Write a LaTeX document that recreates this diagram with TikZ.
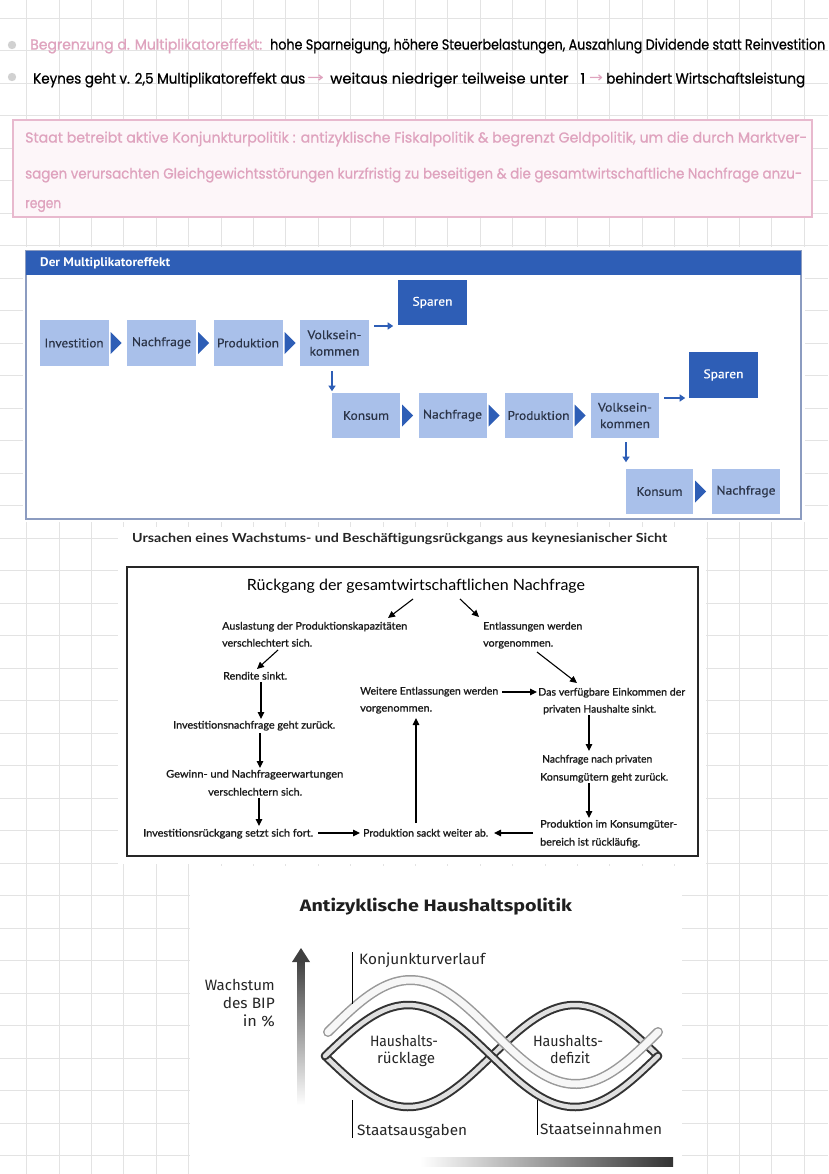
\documentclass[tikz,border=0pt]{standalone}
\usepackage{graphicx}
\usepackage{fontspec}
\setmainfont{Lato}
\newfontfamily\hand{Poppins}[FakeBold=0.8]
\newfontfamily\din{PT Sans}[FakeBold=0.4]
\newfontfamily\dinb{PT Sans}
\newfontfamily\latom{Lato}[FakeBold=1]
\newfontfamily\lato{Lato}
\newfontfamily\fira{Fira Sans}
\newfontfamily\sym{DejaVu Sans}
\usetikzlibrary{arrows.meta,calc}
\definecolor{pinkc}{HTML}{DFA3BE}
\definecolor{pinkb}{HTML}{E8B9CE}
\definecolor{pinkf}{HTML}{FDF6F9}
\definecolor{gridc}{HTML}{E3E3E3}
\definecolor{lblue}{HTML}{A9C0EA}
\definecolor{dblue}{HTML}{2E5EB6}
\definecolor{boxtext}{HTML}{2B3448}
\definecolor{outerc}{HTML}{8C9CC0}
\newcommand{\fitw}[2]{\resizebox{#1}{\height}{#2}}
\newcommand{\mtri}[1]{\fill[dblue] ($(#1.east)+(2,-11)$) -- ++(11,11) -- ++(-11,11) -- cycle;}
\newcommand{\cl}[5]{\node[ctxt,anchor=base west] (#1) at (#2,{#3+3.6}) {\fitw{#4pt}{#5}};}
\begin{document}
\begin{tikzpicture}[x=1pt,y=-1pt,
  handtxt/.style={anchor=west,inner sep=0,font=\hand\fontsize{14.5}{16}\selectfont},
  mbox/.style={fill=lblue,minimum width=69pt,minimum height=46pt,inner sep=0,align=center,text=boxtext,font=\din\fontsize{12.5}{16.5}\selectfont},
  sbox/.style={mbox,fill=dblue,text=white},
  marrow/.style={-{Triangle[length=5.5pt,width=7pt]},draw=dblue,line width=1.8pt},
  ctxt/.style={inner sep=0,font=\latom\fontsize{10.5}{12}\selectfont,text=black!90},
  carrow/.style={-{Triangle[length=7pt,width=6.5pt]},line width=1.1pt},
  tubeout/.style={line width=8.5pt,draw=black!80,line cap=round},
  tubein/.style={line width=4.5pt,draw=black!12,line cap=round},
  kout/.style={line width=10pt,draw=black!40,line cap=round},
  kin/.style={line width=7pt,draw=black!3,line cap=round},
  atxt/.style={inner sep=0,font=\fira\fontsize{15}{18}\selectfont,text=black!85}
]
\useasboundingbox (0,0) rectangle (828,1174);
\clip (0,0) rectangle (828,1174);
\fill[white] (0,0) rectangle (828,1174);
% grid
\foreach \i in {0,...,25} \draw[gridc,line width=0.8pt] ({26.6+32.4*\i},0) -- ++(0,1174);
\foreach \j in {0,...,36} \draw[gridc,line width=0.8pt] (0,{18+32.5*\j}) -- ++(828,0);

% handwritten notes
\fill[black!18] (12,45) circle (4.2);
\fill[black!18] (12,77) circle (4.2);
\node[handtxt,text=pinkc] (h1a) at (30,46) {\fitw{232pt}{Begrenzung d. Multiplikatoreffekt:}};
\node[handtxt] (h1b) at (270,46) {\fitw{555pt}{hohe Sparneigung, höhere Steuerbelastungen, Auszahlung Dividende statt Reinvestition}};
\node[handtxt] (h2a) at (33,80) {\fitw{272pt}{Keynes geht v. 2,5 Multiplikatoreffekt aus}};
\node[handtxt,text=pinkc] (h2b) at (307,79) {\sym\fitw{17pt}{→}};
\node[handtxt] (h2c) at (330,80) {\fitw{255pt}{weitaus niedriger teilweise unter\ \ \ 1}};
\node[handtxt,text=pinkc] (h2d) at (589,79) {\sym\fitw{14pt}{→}};
\node[handtxt] (h2e) at (606,80) {\fitw{199pt}{behindert Wirtschaftsleistung}};

% pink box
\draw[pinkb,line width=1.3pt,fill=pinkf] (13,120) rectangle (812,217);
\node[handtxt,text=pinkc] (p1) at (25,139) {\fitw{782pt}{Staat betreibt aktive Konjunkturpolitik : antizyklische Fiskalpolitik \& begrenzt Geldpolitik, um die durch Marktver-}};
\node[handtxt,text=pinkc] (p2) at (25,175) {\fitw{777pt}{sagen verursachten Gleichgewichtsstörungen kurzfristig zu beseitigen \& die gesamtwirtschaftliche Nachfrage anzu-}};
\node[handtxt,text=pinkc] (p3) at (25,206) {\fitw{36pt}{regen}};

% Multiplikatoreffekt
\fill[white] (23,247) rectangle (805,522);
\draw[outerc,line width=1.3pt] (26,251) rectangle (801,519);
\fill[dblue] (26,251) rectangle (801,275);
\node[anchor=west,inner sep=0,text=white,font=\dinb\bfseries\fontsize{12.5}{14}\selectfont] (mtitle) at (40,263) {\fitw{130pt}{Der Multiplikatoreffekt}};
\node[mbox] (inv) at (74,343) {\fitw{59pt}{Investition}};
\node[mbox] (nf1) at (161.5,343) {\fitw{59pt}{Nachfrage}};
\node[mbox] (pr1) at (248,343) {\fitw{62pt}{Produktion}};
\node[mbox] (vk1) at (334.5,343) {\fitw{54pt}{Volksein-}\\\fitw{50pt}{kommen}};
\node[sbox,minimum height=45pt] (sp1) at (432.5,302.5) {\fitw{40pt}{Sparen}};
\node[mbox,minimum width=68pt,minimum height=45pt] (ko1) at (366,415.5) {\fitw{46pt}{Konsum}};
\node[mbox,minimum width=68pt,minimum height=45pt] (nf2) at (452.5,415.5) {\fitw{59pt}{Nachfrage}};
\node[mbox,minimum width=68pt,minimum height=45pt] (pr2) at (538.5,415.5) {\fitw{62pt}{Produktion}};
\node[mbox,minimum width=68pt,minimum height=45pt] (vk2) at (625,415.5) {\fitw{54pt}{Volksein-}\\\fitw{50pt}{kommen}};
\node[sbox,minimum height=46pt] (sp2) at (723.5,375) {\fitw{40pt}{Sparen}};
\node[mbox,minimum width=67pt,minimum height=45pt] (ko3) at (659.5,491.5) {\fitw{46pt}{Konsum}};
\node[mbox,minimum width=68pt,minimum height=45pt] (nf3) at (746,491.5) {\fitw{59pt}{Nachfrage}};
\mtri{inv}\mtri{nf1}\mtri{pr1}\mtri{ko1}\mtri{nf2}\mtri{pr2}\mtri{ko3}
\draw[marrow] ([xshift=5pt,yshift=17pt]vk1.east) -- ([xshift=24pt,yshift=17pt]vk1.east);
\draw[marrow] ([xshift=-2.5pt,yshift=-5pt]vk1.south) -- ([xshift=-2.5pt,yshift=-25pt]vk1.south);
\draw[marrow] ([xshift=5pt,yshift=17.5pt]vk2.east) -- ([xshift=26pt,yshift=17.5pt]vk2.east);
\draw[marrow] ([xshift=1pt,yshift=-4pt]vk2.south) -- ([xshift=1pt,yshift=-24pt]vk2.south);

% Ursachen
\fill[white] (118,527) rectangle (706,864);
\node[anchor=west,inner sep=0,font=\lato\bfseries\fontsize{12.5}{14}\selectfont,text=black!85] (ctitle) at (132,539) {\fitw{535pt}{Ursachen eines Wachstums- und Beschäftigungsrückgangs aus keynesianischer Sicht}};
\draw[black!85,line width=1.6pt] (127,567) rectangle (698,856);
\node[inner sep=0,font=\lato\fontsize{15.5}{18}\selectfont] (rt) at (416,586) {\fitw{338pt}{Rückgang der gesamtwirtschaftlichen Nachfrage}};
\cl{a1a}{222}{626}{185}{Auslastung der Produktionskapazitäten}
\cl{a1b}{222}{643}{90}{verschlechtert sich.}
\cl{a2a}{483}{626}{99}{Entlassungen werden}
\cl{a2b}{483}{643}{70}{vorgenommen.}
\cl{a3}{223}{676}{64}{Rendite sinkt.}
\cl{a4a}{360}{691}{138}{Weitere Entlassungen werden}
\cl{a4b}{360}{708}{72}{vorgenommen.}
\cl{a5a}{538}{692}{147}{Das verfügbare Einkommen der}
\cl{a5b}{543}{709}{113}{privaten Haushalte sinkt.}
\cl{a6}{173}{725}{162}{Investitionsnachfrage geht zurück.}
\cl{a7a}{542}{759}{110}{Nachfrage nach privaten}
\cl{a7b}{540}{777}{128}{Konsumgütern geht zurück.}
\cl{a8a}{166}{774}{177}{Gewinn- und Nachfrageerwartungen}
\cl{a8b}{208}{792}{94}{verschlechtern sich.}
\cl{a9}{143}{833}{170}{Investitionsrückgang setzt sich fort.}
\cl{a10}{363}{833}{125}{Produktion sackt weiter ab.}
\cl{a11a}{540}{824}{137}{Produktion im Konsumgüter-}
\cl{a11b}{540}{842}{100}{bereich ist rückläufig.}
\draw[carrow] (413,599) -- (388,618);
\draw[carrow] (460,599) -- (479,617);
\draw[carrow] (537,652) -- (577,683);
\draw[carrow] (278,650) -- (257,669);
\draw[carrow] (261,682) -- (261,719);
\draw[carrow] (260,733) -- (260,768);
\draw[carrow] (259,798) -- (259,826);
\draw[carrow] (318,833) -- (360,833);
\draw[carrow] (533,833) -- (494,833);
\draw[carrow] (416,823) -- (416,718);
\draw[carrow] (502,692) -- (537,692);
\draw[carrow] (589,715) -- (589,751);
\draw[carrow] (589,783) -- (589,818);

% Antizyklische Haushaltspolitik
\fill[white] (190,866) rectangle (682,1174);
\node[inner sep=0,font=\fira\bfseries\fontsize{16.5}{19}\selectfont,text=black!88] (atitle) at (436,907) {\fitw{272pt}{Antizyklische Haushaltspolitik}};
\shade[top color=black!75,bottom color=white] (297.5,960) rectangle (304.5,1105);
\fill[black!75] (292,962) -- (310,962) -- (301,948) -- cycle;
\node[atxt,anchor=east] (w1) at (275,985) {\fitw{70pt}{Wachstum}};
\node[atxt,anchor=east] (w2) at (275,1003) {\fitw{52pt}{des BIP}};
\node[atxt,anchor=east] (w3) at (275,1021) {\fitw{32pt}{in \%}};
\shade[left color=white,right color=black!80] (420,1157) rectangle (673,1166);
% lens tubes (t in degrees)
\draw[tubeout] plot[domain=0:360,samples=90,variable=\t] ({325+0.925*\t},{1056+51*sin(\t)});
\draw[tubein] plot[domain=0:360,samples=90,variable=\t] ({325+0.925*\t},{1056+51*sin(\t)});
\draw[tubeout] plot[domain=0:360,samples=90,variable=\t] ({325+0.925*\t},{1056-51*sin(\t)});
\draw[tubein] plot[domain=0:360,samples=90,variable=\t] ({325+0.925*\t},{1056-51*sin(\t)});
% Konjunktur tube
\draw[kout] plot[domain=0:360,samples=90,variable=\t] ({328+0.9167*\t},{1032-52*sin(\t)});
\draw[kin] plot[domain=0:360,samples=90,variable=\t] ({328+0.9167*\t},{1032-52*sin(\t)});
% labels
\node[atxt,anchor=west] (konj) at (359,960) {\fitw{126pt}{Konjunkturverlauf}};
\node[atxt] (hr1) at (404,1041) {\fitw{68pt}{Haushalts-}};
\node[atxt] (hr2) at (406,1059) {\fitw{58pt}{rücklage}};
\node[atxt] (hd1) at (568,1041) {\fitw{70pt}{Haushalts-}};
\node[atxt] (hd2) at (570,1058) {\fitw{40pt}{defizit}};
\node[atxt,anchor=west] (sa) at (357,1131) {\fitw{110pt}{Staatsausgaben}};
\node[atxt,anchor=west] (se) at (540,1129) {\fitw{122pt}{Staatseinnahmen}};
\coordinate (k1) at (352,1004);
\coordinate (s1) at (352,1100);
\coordinate (e1) at (537,1100);
\draw[line width=1pt] (k1) -- (k1 |- konj.north);
\draw[line width=1pt] (s1) -- (s1 |- sa.south);
\draw[line width=1pt] (e1) -- (e1 |- se.south);
\end{tikzpicture}
\end{document}
